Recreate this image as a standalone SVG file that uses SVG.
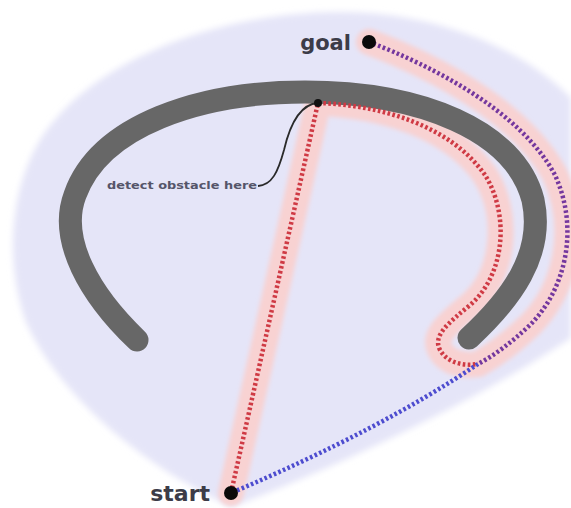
<svg xmlns="http://www.w3.org/2000/svg" width="571" height="508" viewBox="0 0 571 508">
<defs>
<filter id="soft" x="-10%" y="-10%" width="120%" height="120%"><feGaussianBlur stdDeviation="3"/></filter>
<filter id="glowf" filterUnits="userSpaceOnUse" x="0" y="0" width="571" height="508"><feGaussianBlur stdDeviation="2"/></filter>
<style>
.dots{fill:none;stroke-width:4.5;stroke-dasharray:2.6 2.4}
.red{stroke:#cf3a44}
.purple{stroke:#74379e}
.blue{stroke:#4d4ccf}
.lbl{font-family:"DejaVu Sans","Liberation Sans",sans-serif;fill:#3c3c48;font-weight:bold}
</style>
</defs>
<rect width="571" height="508" fill="#ffffff"/>
<g id="free-space">
<path d="M232,507 C150,470 60,400 25,320 C5,260 10,190 40,140 C90,60 220,12 340,12 C430,12 520,45 571,98 L571,338 C500,385 380,450 232,507 Z" fill="#e5e5f8" filter="url(#soft)"/>
</g>
<g id="connectors">
<g filter="url(#glowf)" fill="none" stroke="#f8d2d2" stroke-width="26" stroke-linecap="round" stroke-linejoin="round">
<path d="M231,493 L318,103 C380,105 450,125 485,175 C510,215 505,275 470,305 C450,322 432,335 440,350 C448,364 465,366 478,364"/>
<path d="M369,42 C430,65 520,110 555,175 C580,230 565,290 530,325 C512,342 495,355 478,364"/>
</g>
</g>
<g id="obstacle">
<path d="M137,340 C90,295 58,240 75,195 C100,125 200,92 305,92 C420,92 515,130 533,200 C545,255 510,300 469,338" fill="none" stroke="#676767" stroke-width="23" stroke-linecap="round"/>
</g>
<g id="paths">
<path class="dots red" d="M231,493 L318,103 C380,105 450,125 485,175 C510,215 505,275 470,305 C450,322 432,335 440,350 C448,364 465,366 478,364"/>
<path class="dots purple" d="M369,42 C430,65 520,110 555,175 C580,230 565,290 530,325 C512,342 495,355 478,364"/>
<path class="dots blue" d="M478,364 Q380,430 231,493"/>
<path d="M258,186 C272,185 278,172 284,150 C291,120 302,104 318,103" fill="none" stroke="#2a2a2a" stroke-width="1.8"/>
</g>
<g id="detect">
<circle cx="318" cy="103" r="4" fill="#111"/>
<text x="107" y="189" font-size="10.5" textLength="150" lengthAdjust="spacingAndGlyphs" font-family="DejaVu Sans, Liberation Sans, sans-serif" font-weight="bold" fill="#55556a">detect obstacle here</text>
</g>
<g id="goal">
<circle cx="369" cy="42" r="7" fill="#0a0a0a"/>
<text class="lbl" x="351" y="50" font-size="21" text-anchor="end">goal</text>
</g>
<g id="start">
<circle cx="231" cy="493" r="7" fill="#0a0a0a"/>
<text class="lbl" x="210" y="501" font-size="22" text-anchor="end">start</text>
</g>
</svg>
